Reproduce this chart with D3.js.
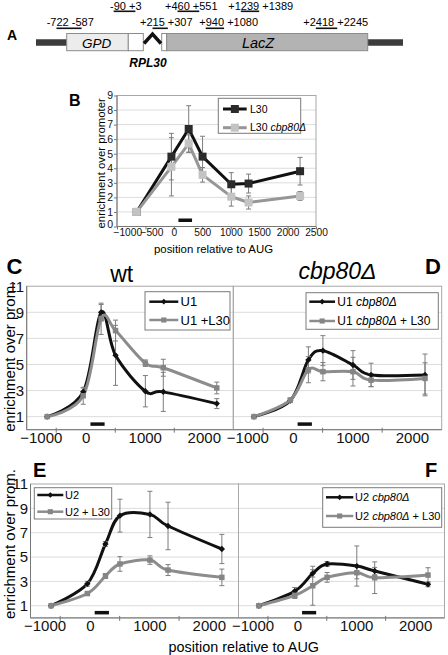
<!DOCTYPE html>
<html>
<head>
<meta charset="utf-8">
<script src="https://cdn.jsdelivr.net/npm/d3@7/dist/d3.min.js"></script>
<style>
html,body{margin:0;padding:0;background:#fff;}
svg{display:block;}
</style>
</head>
<body>
<svg id="fig" width="448" height="655"></svg>
<script>
// ---------------- DATA ----------------
const ampliconPos = [-654, -43, 261, 505, 1010, 1314, 2220];
const probeSpan = [80, 320];
const probeLevel = 0.43;

const xTicksB = [-1000, -500, 0, 500, 1000, 1500, 2000, 2500];
const yTicksB = [0, 1, 2, 3, 4, 5, 6, 7, 8, 9];
const xTicksU = [-1000, 0, 1000, 2000];
const xMinorU = [-500, 500, 1500];
const yTicksU = [1, 3, 5, 7, 9, 11];

// Panel B
const l30 = [1.0, 4.8, 6.7, 4.8, 2.9, 2.95, 3.8];
const l30Err = [0, 1.6, 1.6, 1.4, 0.8, 0.65, 0.95];
const l30cbp = [1.0, 4.1, 5.7, 3.55, 2.05, 1.65, 2.1];
const l30cbpErr = [0, 2.0, 0.6, 0.5, 0.65, 0.45, 0.3];
// Panel C
const u1 = [1.0, 2.9, 9.0, 5.7, 2.95, 2.9, 2.0];
const u1Err = [0, 0.3, 0.6, 2.3, 1.2, 1.5, 0.38];
const u1L30 = [1.0, 2.6, 8.5, 7.6, 5.1, 4.75, 3.2];
const u1L30Err = [0, 0.65, 1.2, 0.8, 0.25, 0.65, 0.45];
// Panel D
const u1cbp = [1.0, 2.23, 5.35, 6.06, 4.96, 4.2, 4.2];
const u1cbpErr = [0, 0.15, 1.0, 1.15, 1.1, 0.9, 1.6];
const u1cbpL30 = [1.0, 2.27, 4.6, 4.45, 4.45, 3.8, 3.93];
const u1cbpL30Err = [0, 0.15, 1.0, 0.7, 1.1, 0.5, 1.2];
// Panel E
const u2 = [1.0, 2.8, 6.07, 8.4, 8.5, 7.55, 5.66];
const u2Err = [0, 0.2, 0.2, 1.35, 1.9, 1.95, 1.2];
const u2L30 = [1.0, 2.0, 3.44, 4.43, 4.75, 3.93, 3.33];
const u2L30Err = [0, 0.1, 0.2, 0.6, 0.35, 0.45, 0.68];
// Panel F
const u2cbp = [1.0, 2.2, 3.66, 4.43, 4.26, 3.85, 2.76];
const u2cbpErr = [0, 0.3, 0.3, 0.2, 1.65, 0.3, 0.2];
const u2cbpL30 = [1.0, 1.85, 2.64, 3.33, 3.71, 3.3, 3.52];
const u2cbpL30Err = [0, 0.25, 1.6, 0.4, 0.5, 1.3, 0.6];

// Panel A amplicon labels and underlined character ranges
const ampliconRow1 = ["-90 +3", "+460 +551", "+1239 +1389"];
const ampliconRow2 = ["-722 -587", "+215 +307", "+940 +1080", "+2418 +2245"];
const underlineRow1 = [[1, 5], [2, 6], [2, 5]];
const underlineRow2 = [[2, 7], [2, 5], [1, 4], [2, 6]];

// ---------------- DRAWING ----------------
const FONT = "'Liberation Sans', Arial, Helvetica, sans-serif";
const svg = d3.select("#fig").attr("font-family", FONT);
const BLACK = "#111111", GLINE = "#8c8c8c", GMARK = "#858585", ERR = "#7d7d7d";

// ---- Panel A (schematic) ----
const A = svg.append("g");
A.append("text").attr("x", 7).attr("y", 39.5).attr("font-size", 14).attr("font-weight", "bold").text("A");
A.append("line").attr("x1", 36).attr("x2", 67).attr("y1", 42.5).attr("y2", 42.5)
  .attr("stroke", "#3c3c3c").attr("stroke-width", 6.5);
A.append("line").attr("x1", 367).attr("x2", 403).attr("y1", 42.5).attr("y2", 42.5)
  .attr("stroke", "#3c3c3c").attr("stroke-width", 6.5);
A.append("rect").attr("x", 66.7).attr("y", 33.5).attr("width", 61.6).attr("height", 17.2)
  .attr("fill", "#ececec").attr("stroke", "#8c8c8c");
A.append("rect").attr("x", 128.3).attr("y", 33.5).attr("width", 15).attr("height", 17.2)
  .attr("fill", "#fff").attr("stroke", "#8c8c8c");
A.append("rect").attr("x", 161.7).attr("y", 33.5).attr("width", 5).attr("height", 17.2)
  .attr("fill", "#fff").attr("stroke", "#8c8c8c");
A.append("rect").attr("x", 166.7).attr("y", 33.5).attr("width", 201).attr("height", 17.2)
  .attr("fill", "#b3b3b3").attr("stroke", "#8c8c8c");
A.append("path").attr("d", "M144,43.5 L152.5,34 L161,43.5").attr("fill", "none")
  .attr("stroke", "#111").attr("stroke-width", 3.4).attr("stroke-linejoin", "miter");
A.append("text").attr("x", 96.7).attr("y", 47.5).attr("text-anchor", "middle").attr("font-size", 13.5)
  .attr("font-style", "italic").text("GPD");
A.append("text").attr("x", 258).attr("y", 47.5).attr("text-anchor", "middle").attr("font-size", 14.5)
  .attr("font-style", "italic").text("LacZ");
A.append("text").attr("x", 148).attr("y", 66.5).attr("text-anchor", "middle").attr("font-size", 12)
  .attr("font-style", "italic").attr("font-weight", "bold").text("RPL30");

function ampliconRow(labels, ranges, xs, baseline, uy) {
  labels.forEach((lab, k) => {
    const t = A.append("text").attr("x", xs[k]).attr("y", baseline).attr("font-size", 11).text(lab);
    const node = t.node();
    const r = ranges[k];
    const x1 = node.getStartPositionOfChar(r[0]).x;
    const x2 = node.getEndPositionOfChar(r[1] - 1).x;
    A.append("line").attr("x1", x1).attr("x2", x2).attr("y1", uy).attr("y2", uy)
      .attr("stroke", "#111").attr("stroke-width", 1.6);
  });
}
ampliconRow(ampliconRow1, underlineRow1, [110, 165, 228.3], 9.6, 11.3);
ampliconRow(ampliconRow2, underlineRow2, [46.7, 140, 199.3, 303.3], 26.2, 28.3);

// ---- generic chart helpers ----
function squarePath(area) { return d3.symbol().type(d3.symbolSquare).size(area)(); }

function drawChart(g, x, y, series, o) {
  const [xl, xr] = x.range(), [yb, yt] = y.range();
  g.append("g").selectAll("line").data(o.grid).join("line")
    .attr("x1", xl).attr("x2", xr).attr("y1", d => y(d)).attr("y2", d => y(d))
    .attr("stroke", "#dcdcdc").attr("stroke-width", 1);
  g.append("rect").attr("x", xl).attr("y", yt).attr("width", xr - xl).attr("height", yb - yt)
    .attr("fill", "none").attr("stroke", "#a8a8a8").attr("stroke-width", 1);
  g.append("line").attr("x1", xl).attr("x2", xr).attr("y1", yb).attr("y2", yb).attr("stroke", "#777");
  if (o.leftAxis) g.append("line").attr("x1", xl).attr("x2", xl).attr("y1", yt).attr("y2", yb).attr("stroke", "#777");
  // probe bar
  g.append("line").attr("x1", x(probeSpan[0])).attr("x2", x(probeSpan[1]))
    .attr("y1", y(probeLevel)).attr("y2", y(probeLevel)).attr("stroke", "#111").attr("stroke-width", o.probeW);
  // lines
  series.forEach(s => {
    const line = d3.line().x((d, i) => x(ampliconPos[i])).y(d => y(d))
      .curve(o.smooth ? d3.curveCardinal.tension(0) : d3.curveLinear);
    g.append("path").datum(s.values).attr("d", line).attr("fill", "none")
      .attr("stroke", s.line).attr("stroke-width", o.lineW).attr("stroke-linejoin", "round");
  });
  // error bars
  series.forEach(s => {
    const data = s.values.map((v, i) => ({ p: ampliconPos[i], v, e: s.errors[i] })).filter(d => d.e > 0);
    const eg = g.append("g").attr("stroke", ERR).attr("stroke-width", 1);
    eg.selectAll(null).data(data).join("line")
      .attr("x1", d => x(d.p)).attr("x2", d => x(d.p)).attr("y1", d => y(d.v + d.e)).attr("y2", d => y(d.v - d.e));
    [1, -1].forEach(sg => {
      eg.selectAll(null).data(data).join("line")
        .attr("x1", d => x(d.p) - o.cap).attr("x2", d => x(d.p) + o.cap)
        .attr("y1", d => y(d.v + sg * d.e)).attr("y2", d => y(d.v + sg * d.e));
    });
  });
  // markers
  series.forEach(s => {
    g.append("g").selectAll(null).data(s.values).join("path")
      .attr("d", squarePath(s.size))
      .attr("transform", (d, i) => `translate(${x(ampliconPos[i])},${y(d)})` + (s.diamond ? " rotate(45)" : ""))
      .attr("fill", s.mark).attr("stroke", s.stroke || "none").attr("stroke-width", 0.8);
  });
}

function drawLegend(g, box, items, o) {
  g.append("rect").attr("x", box[0]).attr("y", box[1]).attr("width", box[2]).attr("height", box[3])
    .attr("fill", "#fff").attr("stroke", "#7a7a7a").attr("stroke-width", 1);
  items.forEach((it, k) => {
    const yy = o.rows[k];
    g.append("line").attr("x1", o.lineX[0]).attr("x2", o.lineX[1]).attr("y1", yy).attr("y2", yy)
      .attr("stroke", it.line).attr("stroke-width", o.lineW);
    g.append("path").attr("d", squarePath(it.size))
      .attr("transform", `translate(${(o.lineX[0] + o.lineX[1]) / 2},${yy})` + (it.diamond ? " rotate(45)" : ""))
      .attr("fill", it.mark).attr("stroke", it.stroke || "none").attr("stroke-width", 0.8);
    const t = g.append("text").attr("x", o.textX).attr("y", yy).attr("dy", "0.36em").attr("font-size", o.fs);
    it.label.forEach(p => t.append("tspan").text(p[0]).attr("font-style", p[1] ? "italic" : null));
  });
}

function styleAxis(ax, fs) {
  ax.attr("font-family", FONT).attr("font-size", fs);
  ax.select(".domain").remove();
  ax.selectAll("text").attr("fill", "#111");
  ax.selectAll(".tick line").attr("stroke", "#777");
}

// ---- Panel B ----
const B = svg.append("g");
const xB = d3.scaleLinear().domain([-1000, 2500]).range([117, 316]);
const yB = d3.scaleLinear().domain([0, 9]).range([226.5, 95.5]);
B.append("text").attr("x", 69).attr("y", 106).attr("font-size", 16).attr("font-weight", "bold").text("B");
drawChart(B, xB, yB, [
  { values: l30, errors: l30Err, line: BLACK, mark: "#2b2b2b", size: 64 },
  { values: l30cbp, errors: l30cbpErr, line: "#969696", mark: "#c3c3c3", size: 64 }
], { grid: yTicksB.slice(1), leftAxis: true, smooth: false, lineW: 3, cap: 2.5, probeW: 3.5 });
const axBy = B.append("g").attr("transform", `translate(${xB.range()[0]},0)`)
  .call(d3.axisLeft(yB).tickValues(yTicksB).tickSizeInner(3).tickSizeOuter(0).tickPadding(1).tickFormat(d3.format("d")));
styleAxis(axBy, 10.5);
axBy.selectAll("text").filter(d => d === 0).attr("dy", "0.05em");
const axBx = B.append("g").attr("transform", `translate(0,${yB.range()[0]})`)
  .call(d3.axisBottom(xB).tickValues(xTicksB).tickSizeInner(3).tickSizeOuter(0).tickPadding(-1).tickFormat(d3.format("d")));
styleAxis(axBx, 10.2);
axBx.selectAll("text").filter(d => d === xTicksB[0]).attr("text-anchor", "start").attr("dx", -4);
axBx.selectAll("text").filter(d => d === xTicksB[1]).attr("dx", 6);
B.append("text").attr("transform", "translate(101,163.3) rotate(-90)").attr("text-anchor", "middle")
  .attr("dy", "0.35em").attr("font-size", 11.4).text("enrichment over promoter");
B.append("text").attr("x", 213.5).attr("y", 249).attr("text-anchor", "middle").attr("dy", "0.35em")
  .attr("font-size", 11.4).text("position relative to AUG");
drawLegend(B, [218.3, 98.3, 82.4, 35], [
  { label: [["L30", false]], line: BLACK, mark: "#2b2b2b", size: 64 },
  { label: [["L30 ", false], ["cbp80Δ", true]], line: "#969696", mark: "#c3c3c3", size: 64 }
], { rows: [109, 127.7], lineX: [223, 246.7], textX: 250, fs: 10.5, lineW: 3 });

// ---- Panels C-F ----
function uPanel(g, x, y, blackVals, blackErr, grayVals, grayErr, leftAxis) {
  drawChart(g, x, y, [
    { values: blackVals, errors: blackErr, line: BLACK, mark: BLACK, size: 20, diamond: true },
    { values: grayVals, errors: grayErr, line: GLINE, mark: GMARK, size: 30 }
  ], { grid: yTicksU.slice(0, -1), leftAxis, smooth: true, lineW: 3, cap: 2.5, probeW: 3.5 });
  // minor tick marks
  g.append("g").selectAll("line").data(xMinorU).join("line")
    .attr("x1", d => x(d)).attr("x2", d => x(d)).attr("y1", y.range()[0] - 2).attr("y2", y.range()[0] + 3)
    .attr("stroke", "#777");
  const ax = g.append("g").attr("transform", `translate(0,${y.range()[0]})`)
    .call(d3.axisBottom(x).tickValues(xTicksU).tickSize(0).tickPadding(2.5).tickFormat(d3.format("d")));
  styleAxis(ax, 15);
  ax.selectAll("text").filter(d => d === xTicksU[0]).attr("text-anchor", "start").attr("dx", -7);
  if (leftAxis) {
    const ay = g.append("g").attr("transform", `translate(${x.range()[0]},0)`)
      .call(d3.axisLeft(y).tickValues(yTicksU).tickSize(0).tickPadding(2.5).tickFormat(d3.format("d")));
    styleAxis(ay, 15);
  }
}

const yCD = d3.scaleLinear().domain([0, 11]).range([429.7, 286.2]);
const xC = d3.scaleLinear().domain([-1000, 2500]).range([26.7, 233.3]);
const xD = d3.scaleLinear().domain([-1000, 2500]).range([233.3, 441.7]);
const yEF = d3.scaleLinear().domain([0, 11]).range([617.9, 484]);
const xE = d3.scaleLinear().domain([-1000, 2500]).range([30.5, 238.5]);
const xF = d3.scaleLinear().domain([-1000, 2500]).range([238.5, 444.5]);

const C = svg.append("g"), D = svg.append("g"), E = svg.append("g"), F = svg.append("g");
uPanel(C, xC, yCD, u1, u1Err, u1L30, u1L30Err, true);
uPanel(D, xD, yCD, u1cbp, u1cbpErr, u1cbpL30, u1cbpL30Err, false);
uPanel(E, xE, yEF, u2, u2Err, u2L30, u2L30Err, true);
uPanel(F, xF, yEF, u2cbp, u2cbpErr, u2cbpL30, u2cbpL30Err, false);

const blackItem = (label) => ({ label, line: BLACK, mark: BLACK, size: 16, diamond: true });
const grayItem = (label) => ({ label, line: GLINE, mark: GMARK, size: 26 });

drawLegend(C, [145, 291.7, 85, 38.3], [blackItem([["U1", false]]), grayItem([["U1 +L30", false]])],
  { rows: [301.7, 320], lineX: [149.3, 178.3], textX: 180.5, fs: 13, lineW: 2.5 });
drawLegend(D, [306, 292.7, 132.3, 36.6], [
  blackItem([["U1 ", false], ["cbp80Δ", true]]),
  grayItem([["U1 ", false], ["cbp80Δ", true], [" + L30", false]])
], { rows: [301.7, 321], lineX: [309.3, 335], textX: 337.3, fs: 12, lineW: 2.5 });
drawLegend(E, [34.3, 487.7, 77.4, 31.3], [blackItem([["U2", false]]), grayItem([["U2 + L30", false]])],
  { rows: [495, 511.7], lineX: [37.3, 63.3], textX: 65, fs: 11, lineW: 2.5 });
drawLegend(F, [322.7, 487.7, 119, 39.6], [
  blackItem([["U2 ", false], ["cbp80Δ", true]]),
  grayItem([["U2 ", false], ["cbp80Δ", true], [" + L30", false]])
], { rows: [497.3, 516], lineX: [326, 353.3], textX: 355, fs: 11, lineW: 2.5 });

// panel letters and titles
svg.append("text").attr("x", 6.5).attr("y", 273.5).attr("font-size", 22).attr("font-weight", "bold").text("C");
svg.append("text").attr("x", 425).attr("y", 274).attr("font-size", 22).attr("font-weight", "bold").text("D");
svg.append("text").attr("x", 33).attr("y", 476.7).attr("font-size", 20).attr("font-weight", "bold").text("E");
svg.append("text").attr("x", 425).attr("y", 476.7).attr("font-size", 20).attr("font-weight", "bold").text("F");
svg.append("text").attr("x", 121.7).attr("y", 281.5).attr("text-anchor", "middle").attr("font-size", 23).text("wt");
svg.append("text").attr("x", 337.5).attr("y", 279).attr("text-anchor", "middle").attr("font-size", 23)
  .attr("font-style", "italic").text("cbp80Δ");

// y-axis titles
svg.append("text").attr("transform", "translate(10,356.7) rotate(-90)").attr("text-anchor", "middle")
  .attr("dy", "0.35em").attr("font-size", 15).text("enrichment over prom.");
svg.append("text").attr("transform", "translate(10,544) rotate(-90)").attr("text-anchor", "middle")
  .attr("dy", "0.35em").attr("font-size", 15).text("enrichment over prom.");
// bottom x title
svg.append("text").attr("x", 243.8).attr("y", 646.7).attr("text-anchor", "middle").attr("dy", "0.35em")
  .attr("font-size", 14.4).text("position relative to AUG");
</script>
</body>
</html>
